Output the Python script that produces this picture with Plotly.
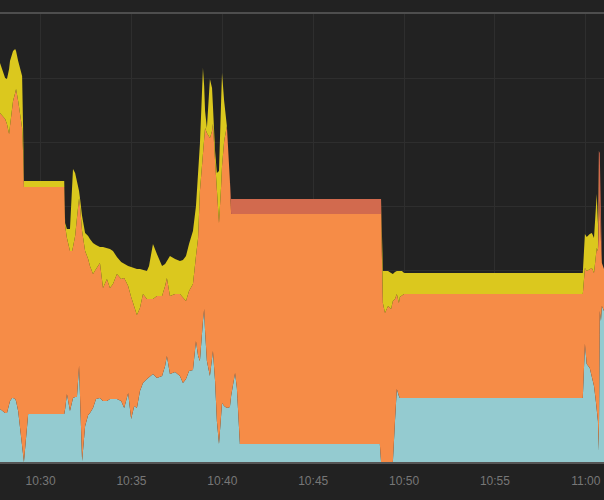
import plotly.graph_objects as go

DAY = "2016-05-12 "

times = [
    "10:27:46", "10:27:56", "10:28:03", "10:28:09", "10:28:16", "10:28:19", "10:28:26", "10:28:29",
    "10:28:36", "10:28:39", "10:28:46", "10:28:56", "10:28:59", "10:29:02", "10:29:05", "10:29:19",
    "10:31:18", "10:31:21", "10:31:27", "10:31:37", "10:31:44", "10:31:47", "10:31:54", "10:32:00",
    "10:32:07", "10:32:10", "10:32:17", "10:32:27", "10:32:37", "10:32:43", "10:32:53", "10:33:03",
    "10:33:16", "10:33:26", "10:33:39", "10:33:49", "10:33:59", "10:34:12", "10:34:26", "10:34:36",
    "10:34:49", "10:34:59", "10:35:09", "10:35:18", "10:35:28", "10:35:38", "10:35:51", "10:35:58",
    "10:36:11", "10:36:24", "10:36:41", "10:36:51", "10:36:57", "10:37:07", "10:37:24", "10:37:40",
    "10:37:50", "10:38:00", "10:38:10", "10:38:23", "10:38:33", "10:38:40", "10:38:46", "10:38:56",
    "10:39:00", "10:39:03", "10:39:09", "10:39:19", "10:39:26", "10:39:29", "10:39:36", "10:39:42",
    "10:39:49", "10:39:56", "10:39:59", "10:40:06", "10:40:15", "10:40:25", "10:40:29", "10:40:42",
    "10:40:48", "10:40:58", "10:48:40", "10:48:44", "10:48:50", "10:48:57", "10:49:07", "10:49:17",
    "10:49:23", "10:49:30", "10:49:36", "10:49:43", "10:49:46", "10:49:53", "10:50:00", "10:59:50",
    "10:59:57", "11:00:03", "11:00:13", "11:00:20", "11:00:27", "11:00:33", "11:00:36", "11:00:40",
    "11:00:43", "11:00:46", "11:00:50", "11:00:53", "11:01:00",
]

blue = [
    53, 51, 49, 49, 56, 61, 64, 64, 63, 61, 51, 26, 19, 9, 0, 48,
    48, 53, 68, 51, 61, 64, 65, 65, 96, 61, 1, 36, 47, 49, 54, 63,
    64, 61, 61, 63, 63, 63, 61, 54, 69, 43, 56, 54, 71, 79, 83, 85,
    88, 84, 86, 96, 106, 88, 90, 86, 79, 83, 91, 92, 121, 106, 101, 141,
    153, 131, 101, 86, 101, 111, 81, 41, 18, 41, 59, 56, 54, 55, 66, 89,
    74, 18, 18, 0, 0, 0, 0, 0, 0, 41, 73, 66, 64, 64, 64, 64,
    118, 98, 94, 86, 76, 61, 51, 41, 11, 151, 141, 156, 151,
]

orange = [
    296, 295, 294, 289, 272, 275, 289, 297, 306, 312, 310, 315, 315, 302, 275, 227,
    227, 183, 156, 160, 150, 151, 161, 179, 168, 195, 230, 175, 156, 147, 134, 130,
    135, 113, 122, 111, 115, 125, 122, 130, 107, 122, 100, 93, 83, 89, 80, 78,
    75, 82, 80, 80, 78, 78, 78, 82, 85, 78, 80, 86, 85, 118, 170, 170,
    168, 203, 228, 238, 230, 227, 220, 225, 221, 235, 237, 265, 282, 226, 182, 159,
    174, 230, 230, 248, 159, 149, 156, 153, 161, 122, 95, 93, 101, 103, 104, 104,
    76, 93, 99, 108, 113, 145, 163, 170, 220, 110, 80, 43, 42,
]

red = [
    0, 0, 0, 0, 0, 0, 0, 0, 0, 0, 0, 0, 0, 0, 0, 0,
    0, 0, 0, 0, 0, 0, 0, 0, 0, 0, 0, 0, 0, 0, 0, 0,
    0, 0, 0, 0, 0, 0, 0, 0, 0, 0, 0, 0, 0, 0, 0, 0,
    0, 0, 0, 0, 0, 0, 0, 0, 0, 0, 0, 0, 0, 0, 0, 0,
    0, 0, 0, 0, 0, 0, 0, 0, 0, 0, 0, 0, 0, 0, 15, 15,
    15, 15, 15, 15, 0, 0, 0, 0, 0, 0, 0, 0, 0, 0, 0, 0,
    0, 0, 0, 0, 0, 0, 0, 0, 80, 48, 40, 0, 0,
]

yellow = [
    50, 45, 41, 45, 65, 65, 55, 50, 44, 38, 40, 48, 52, 27, 6, 6,
    6, 3, 9, 22, 60, 78, 63, 37, 7, 8, 15, 18, 23, 27, 31, 24,
    16, 41, 31, 39, 33, 17, 17, 14, 20, 30, 38, 46, 39, 24, 28, 33,
    55, 42, 30, 22, 17, 40, 35, 33, 38, 45, 47, 53, 50, 62, 47, 83,
    55, 17, 5, 59, 43, 18, 10, 23, 52, 85, 93, 40, 0, 0, 0, 0,
    0, 0, 0, 0, 32, 42, 35, 36, 27, 27, 23, 32, 26, 24, 21, 21,
    34, 34, 35, 35, 35, 55, 54, 27, 0, 0, 0, 0, 0,
]

x = [DAY + t for t in times]

series = [
    ("blue", blue, "#94cbd0"),
    ("orange", orange, "#f68c47"),
    ("red", red, "#d26a4e"),
    ("yellow", yellow, "#dbc81e"),
]

fig = go.Figure()
for name, vals, col in series:
    fig.add_trace(go.Scatter(
        x=x, y=vals, name=name, mode="lines", stackgroup="one",
        line=dict(width=0, color=col), fillcolor=col, hoverinfo="skip",
    ))

fig.update_layout(
    width=604, height=500,
    margin=dict(l=0, r=0, t=13, b=38),
    paper_bgcolor="#222222", plot_bgcolor="#222222",
    showlegend=False,
    font=dict(family="Liberation Sans, Arial, sans-serif", size=12, color="#777777"),
    xaxis=dict(
        type="date",
        range=[DAY + "10:27:46", DAY + "11:01:00"],
        tick0=DAY + "10:30:00", dtick=300000, tickformat="%H:%M",
        showgrid=True, gridcolor="#2e2e2e", gridwidth=1,
        showline=True, linecolor="#555555", linewidth=2,
        ticks="outside", ticklen=7, tickcolor="#222222",
        zeroline=False, fixedrange=True,
    ),
    yaxis=dict(
        range=[0, 449], dtick=64, tick0=0,
        showticklabels=False, showgrid=True, gridcolor="#2e2e2e", gridwidth=1,
        zeroline=False, showline=False, ticks="", fixedrange=True,
    ),
    shapes=[dict(type="line", xref="paper", yref="paper", x0=0, x1=1, y0=1, y1=1,
                 line=dict(color="#4e4e4e", width=2))],
)

fig.write_html(
    "out.html",
    config={"displayModeBar": False},
    post_script="document.body.style.margin='0';document.body.style.padding='0';"
                "document.body.style.background='#222222';",
)
